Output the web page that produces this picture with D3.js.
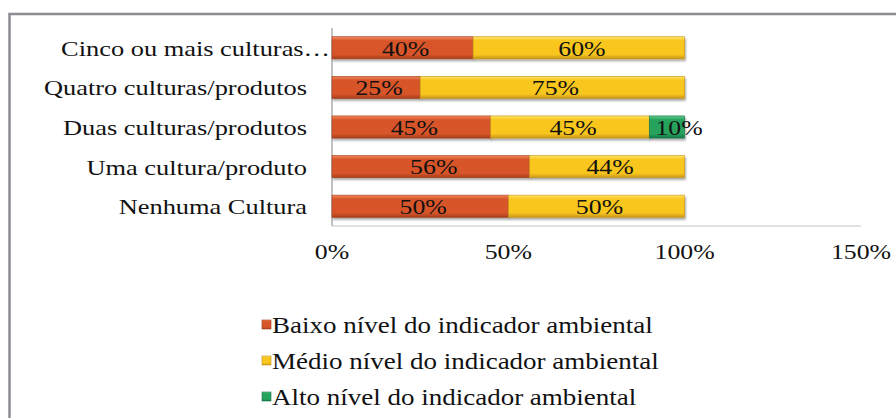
<!DOCTYPE html>
<html>
<head>
<meta charset="utf-8">
<script src="https://cdn.jsdelivr.net/npm/d3@7"></script>
<style>
  body { margin: 0; background: #fff; }
  text { font-family: "Liberation Serif", "DejaVu Serif", serif; fill: #111; }
</style>
</head>
<body>
<div id="chart"></div>
<script>
// categories (top to bottom as drawn)
const categories = [
  "Cinco ou mais culturas\u2026",
  "Quatro culturas/produtos",
  "Duas culturas/produtos",
  "Uma cultura/produto",
  "Nenhuma Cultura"
];
const seriesNames = [
  "Baixo nível do indicador ambiental",
  "Médio nível do indicador ambiental",
  "Alto nível do indicador ambiental"
];
const baixo = [40, 25, 45, 56, 50];
const medio = [60, 75, 45, 44, 50];
const alto  = [0, 0, 10, 0, 0];
const xTicks = [0, 50, 100, 150];

const colors = [
  { base: "#d8552a", light: "#f08a5c", dark: "#a63e1b" },
  { base: "#f8c61c", light: "#ffe46a", dark: "#c8941a" },
  { base: "#25a25c", light: "#62c98c", dark: "#17774a" }
];

// the original text is drawn a bit wider than normal
const stretch = 1.2;

const width = 896, height = 418;
const margin = { top: 28, right: 35, bottom: 192, left: 332 };

const svg = d3.select("#chart").append("svg")
  .attr("width", width)
  .attr("height", height);

// gradients giving the beveled Excel look
const defs = svg.append("defs");
colors.forEach((c, i) => {
  const g = defs.append("linearGradient")
    .attr("id", "grad" + i)
    .attr("x1", 0).attr("y1", 0).attr("x2", 0).attr("y2", 1);
  g.append("stop").attr("offset", "0%").attr("stop-color", c.light);
  g.append("stop").attr("offset", "18%").attr("stop-color", c.base);
  g.append("stop").attr("offset", "80%").attr("stop-color", c.base);
  g.append("stop").attr("offset", "100%").attr("stop-color", c.dark);
});
const shadow = defs.append("filter").attr("id", "shadow")
  .attr("x", "-5%").attr("y", "-20%").attr("width", "110%").attr("height", "160%");
shadow.append("feDropShadow")
  .attr("dx", 1).attr("dy", 2).attr("stdDeviation", 1.2)
  .attr("flood-color", "#000").attr("flood-opacity", 0.35);

// outer frame (cut at right and bottom in the original)
svg.append("rect")
  .attr("x", 9.5).attr("y", 14)
  .attr("width", 950).attr("height", 500)
  .attr("fill", "none")
  .attr("stroke", "#8a8d91")
  .attr("stroke-width", 2.5);

const innerH = height - margin.top - margin.bottom;

const chart = svg.append("g")
  .attr("transform", `translate(${margin.left},${margin.top})`);

const x = d3.scaleLinear().domain([0, 150]).range([0, 529]);
const y = d3.scaleBand().domain(categories).range([0, innerH]).paddingInner(0.44).paddingOuter(0.22);

// stacked data
const rows = categories.map((c, i) => ({ cat: c, baixo: baixo[i], medio: medio[i], alto: alto[i] }));
const stack = d3.stack().keys(["baixo", "medio", "alto"])(rows);

// x axis line
chart.append("line")
  .attr("x1", 0).attr("x2", x(150))
  .attr("y1", innerH).attr("y2", innerH)
  .attr("stroke", "#c4c4c4").attr("stroke-width", 1.2);

// y axis line
chart.append("line")
  .attr("x1", 0).attr("x2", 0)
  .attr("y1", 0).attr("y2", innerH)
  .attr("stroke", "#9a9a9a").attr("stroke-width", 1.2);

stack.forEach((layer, si) => {
  chart.append("g").selectAll("rect")
    .data(layer.filter(d => d[1] - d[0] > 0))
    .join("rect")
    .attr("x", d => x(d[0]))
    .attr("y", d => y(d.data.cat))
    .attr("width", d => x(d[1]) - x(d[0]))
    .attr("height", y.bandwidth())
    .attr("fill", `url(#grad${si})`)
    .attr("stroke", colors[si].dark)
    .attr("stroke-width", 0.6)
    .attr("filter", "url(#shadow)");
});

// places a text at (px,py) and stretches it horizontally
const place = (px, py) => `translate(${px},${py}) scale(${stretch},1)`;

// data labels
stack.forEach((layer, si) => {
  chart.append("g").selectAll("text")
    .data(layer.filter(d => d[1] - d[0] > 0))
    .join("text")
    .attr("transform", d => place(x((d[0] + d[1]) / 2) + (si === 2 ? 12 : 3), y(d.data.cat) + y.bandwidth() / 2))
    .attr("dy", "0.36em")
    .attr("text-anchor", "middle")
    .style("font-size", "21.5px")
    .text(d => (d[1] - d[0]) + "%");
});

// category labels (the truncated one runs up to the axis)
chart.append("g").selectAll("text")
  .data(categories)
  .join("text")
  .attr("transform", d => place(d.endsWith("\u2026") ? -2 : -25, y(d) + y.bandwidth() / 2))
  .attr("dy", "0.36em")
  .attr("text-anchor", "end")
  .style("font-size", "22px")
  .text(d => d);

// x tick labels
chart.append("g").selectAll("text")
  .data(xTicks)
  .join("text")
  .attr("transform", d => place(x(d), innerH + 33))
  .attr("text-anchor", "middle")
  .style("font-size", "21.5px")
  .text(d => d + "%");

// legend
const legend = svg.append("g").attr("transform", "translate(262,325)");
const item = legend.selectAll("g")
  .data(seriesNames)
  .join("g")
  .attr("transform", (d, i) => `translate(0,${i * 36})`);
item.append("rect")
  .attr("x", 0).attr("y", -5)
  .attr("width", 9).attr("height", 9)
  .attr("fill", (d, i) => `url(#grad${i})`)
  .attr("stroke", (d, i) => colors[i].dark)
  .attr("stroke-width", 0.6);
item.append("text")
  .attr("transform", place(10, 0))
  .attr("dy", "0.36em")
  .style("font-size", "22.5px")
  .text(d => d);
</script>
</body>
</html>
